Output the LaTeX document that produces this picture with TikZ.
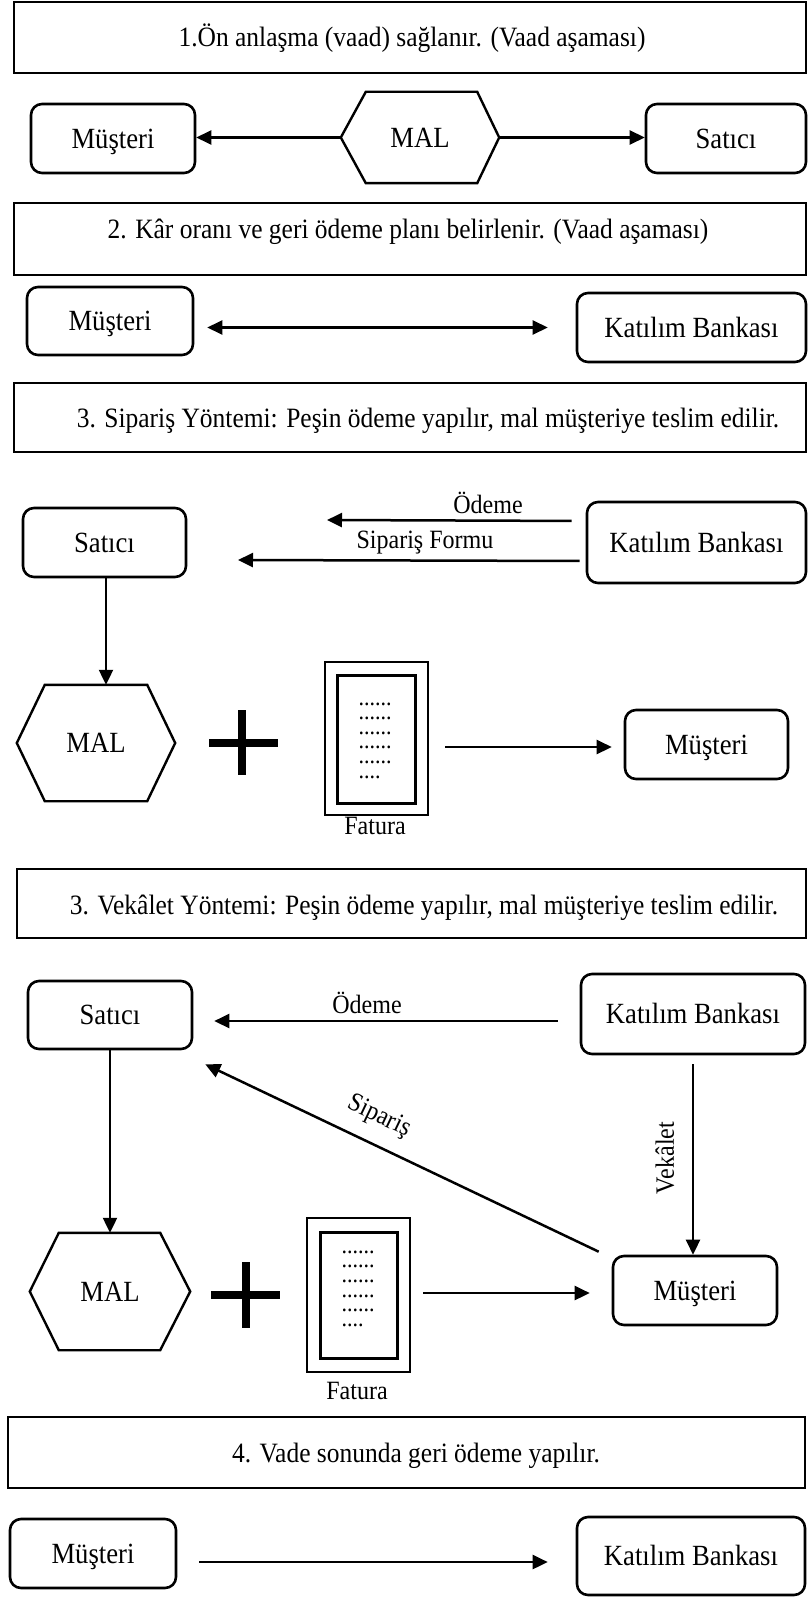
\documentclass[tikz,border=0pt]{standalone}
\usepackage{fontspec}
\setmainfont{Liberation Serif}[FakeStretch=0.91]
\usetikzlibrary{arrows.meta}

% hexagon outline around an invisible node: #1 node, #2 left inset, #3 right inset
\newcommand\hexframe[3]{%
  \draw[hexline] (#1.west) -- ([xshift=#2]#1.north west) -- ([xshift=-#3]#1.north east)
    -- (#1.east) -- ([xshift=-#3]#1.south east) -- ([xshift=#2]#1.south west) -- cycle;}
% placeholder lines of the invoice
\newcommand\sixdots{......}
\newcommand\fourdots{....}

\begin{document}
\begin{tikzpicture}[x=1pt,y=-1pt,
  stagebox/.style={draw, line width=2.8pt, inner sep=0pt},
  stagetext/.style={font=\fontsize{28}{32}\selectfont, inner sep=0pt,
                    text height=18.5pt, text depth=0pt},
  actor/.style={draw, line width=2.6pt, rounded corners=11pt, inner sep=0pt,
                font=\fontsize{29.3}{32}\selectfont, text height=19.4pt, text depth=0pt},
  malnode/.style={inner sep=0pt, font=\fontsize{29.3}{32}\selectfont,
                  text height=19.4pt, text depth=0pt},
  hexline/.style={line width=2.4pt, line join=miter},
  arr/.style={line width=2.5pt, -{Triangle[length=15pt,width=14pt]}},
  dblarr/.style={line width=2.5pt, {Triangle[length=15pt,width=14pt]}-{Triangle[length=15pt,width=14pt]}},
  thinarr/.style={line width=2.2pt, -{Triangle[length=15pt,width=14pt]}},
  flowlabel/.style={font=\fontsize{26.4}{30}\selectfont, inner sep=0pt},
  plusline/.style={line width=8pt},
  outerdoc/.style={draw, line width=2pt, inner sep=0pt},
  innerdoc/.style={draw, line width=3pt, inner sep=0pt},
  dotrow/.style={font=\fontsize{24.2}{24}\selectfont, inner sep=0pt, anchor=base west},
]
\fill[white] (0,0) rectangle (808,1597);
\useasboundingbox (0,0) rectangle (808,1597);

% ---------- Stage 1 ----------
\node[stagebox, minimum width=792pt, minimum height=71pt] (b1) at (410,37.5) {};
\node[stagetext] (t1) at (412,37) {1.Ön anlaşma (vaad) sağlanır. (Vaad aşaması)};

\node[actor, minimum width=164pt, minimum height=69pt] (m1) at (113,138.5) {Müşteri};
\node[malnode, minimum width=158pt, minimum height=91pt] (mal1) at (420,137.5) {MAL};
\hexframe{mal1}{25pt}{22pt}
\node[actor, minimum width=160pt, minimum height=69pt] (s1) at (726,138.5) {Satıcı};
\draw[arr] (mal1.west) -- (mal1.west -| m1.east);
\draw[arr] (mal1.east) -- (mal1.east -| s1.west);

% ---------- Stage 2 ----------
\node[stagebox, minimum width=792pt, minimum height=72pt] (b2) at (410,239) {};
\node[stagetext] (t2) at (408,229) {2. Kâr oranı ve geri ödeme planı belirlenir. (Vaad aşaması)};

\node[actor, minimum width=166pt, minimum height=68pt] (m2) at (110,321) {Müşteri};
\node[actor, minimum width=229pt, minimum height=69pt] (k2) at (691.5,327.5) {Katılım Bankası};
\draw[dblarr, shorten <=13pt, shorten >=28pt] (k2.west -| m2.east) -- (k2.west);

% ---------- Stage 3: order method ----------
\node[stagebox, minimum width=792pt, minimum height=69pt] (b3) at (410,417.5) {};
\node[stagetext] (t3) at (428,418) {3. Sipariş Yöntemi: Peşin ödeme yapılır, mal müşteriye teslim edilir.};

\node[actor, minimum width=163pt, minimum height=69pt] (s3) at (104.5,542.5) {Satıcı};
\node[actor, minimum width=219pt, minimum height=81pt] (k3) at (696.5,542.5) {Katılım Bankası};
\coordinate (pay3end) at (327,520);
\coordinate (form3end) at (238,560);
\draw[arr, shorten <=14pt] ([yshift=21.5pt]k3.west) -- (pay3end);
\draw[arr, shorten <=6pt] ([yshift=-18.5pt]k3.west) -- (form3end);
\node[flowlabel] (pay3) at (488,503) {Ödeme};
\node[flowlabel] (form3) at (425,543) {Sipariş Formu};

\node[malnode, minimum width=158pt, minimum height=116pt] (mal3) at (96,743) {MAL};
\hexframe{mal3}{28pt}{28pt}
\draw[thinarr] ([xshift=1.5pt]s3.south) -- ([xshift=1.5pt]s3.south |- mal3.north);

\coordinate (p3) at (242,743);
\draw[plusline] ([yshift=33pt]p3) -- ([yshift=-32pt]p3);
\draw[plusline] ([xshift=-33pt]p3) -- ([xshift=36pt]p3);

\node[outerdoc, minimum width=103pt, minimum height=153pt] (fat3) at (376.5,738.5) {};
\node[innerdoc, minimum width=78pt, minimum height=128pt] (fat3in) at (376,739) {};
\foreach \i/\t in {0/\sixdots,1/\sixdots,2/\sixdots,3/\sixdots,4/\sixdots,5/\fourdots}
  \node[dotrow] (dots3-\i) at (358.5,{705+14.6*\i}) {\t};
\node[flowlabel] (fl3) at (375,826) {Fatura};

\node[actor, minimum width=163pt, minimum height=69pt] (m3) at (706.5,744.5) {Müşteri};
\draw[arr, shorten <=16pt, shorten >=12pt] ([yshift=-8.5pt]fat3.east) -- ([yshift=-8.5pt]fat3.east -| m3.west);

% ---------- Stage 3: agency method ----------
\node[stagebox, minimum width=789pt, minimum height=69pt] (b4) at (411.5,903.5) {};
\node[stagetext] (t4) at (424,905) {3. Vekâlet Yöntemi: Peşin ödeme yapılır, mal müşteriye teslim edilir.};

\node[actor, minimum width=164pt, minimum height=68pt] (s4) at (110,1015) {Satıcı};
\node[actor, minimum width=224pt, minimum height=80pt] (k4) at (693,1014) {Katılım Bankası};
\draw[arr, shorten <=22pt, shorten >=21pt] ([yshift=-7pt]k4.west) -- ([yshift=-7pt]k4.west -| s4.east);
\node[flowlabel] (pay4) at (367,1003) {Ödeme};

\node[malnode, minimum width=160pt, minimum height=117pt] (mal4) at (110,1291.5) {MAL};
\hexframe{mal4}{29pt}{30pt}
\draw[thinarr] (s4.south) -- (s4.south |- mal4.north);

\coordinate (p4) at (246,1295);
\draw[plusline] ([yshift=33pt]p4) -- ([yshift=-33pt]p4);
\draw[plusline] ([xshift=-35pt]p4) -- ([xshift=34pt]p4);

\node[outerdoc, minimum width=103pt, minimum height=154pt] (fat4) at (358.5,1295) {};
\node[innerdoc, minimum width=77pt, minimum height=126pt] (fat4in) at (358.5,1295) {};
\foreach \i/\t in {0/\sixdots,1/\sixdots,2/\sixdots,3/\sixdots,4/\sixdots,5/\fourdots}
  \node[dotrow] (dots4-\i) at (341.5,{1253+14.7*\i}) {\t};
\node[flowlabel] (fl4) at (357,1391) {Fatura};

\node[actor, minimum width=164pt, minimum height=69pt] (m4) at (695,1290.5) {Müşteri};
\draw[arr, shorten <=12pt, shorten >=22pt] ([yshift=2pt]fat4.east) -- ([yshift=2pt]fat4.east -| m4.west);

\draw[arr, shorten <=9pt] (k4.south) -- (k4.south |- m4.north);
\node[flowlabel, rotate=90] (vek4) at (665,1158) {Vekâlet};

\draw[arr] ([xshift=-13pt,yshift=3pt]m4.north west) -- ([xshift=12pt,yshift=-14pt]s4.south east);
\node[flowlabel, rotate=-25.6] (ord4) at (379,1117) {Sipariş};

% ---------- Stage 4 ----------
\node[stagebox, minimum width=797pt, minimum height=71pt] (b5) at (406.5,1452.5) {};
\node[stagetext] (t5) at (416,1453) {4. Vade sonunda geri ödeme yapılır.};

\node[actor, minimum width=166pt, minimum height=69pt] (m5) at (93,1553.5) {Müşteri};
\node[actor, minimum width=228pt, minimum height=78pt] (k5) at (691,1556) {Katılım Bankası};
\draw[arr, shorten <=22pt, shorten >=28pt] ([yshift=-8.5pt]m5.east) -- ([yshift=-8.5pt]m5.east -| k5.west);

\end{tikzpicture}
\end{document}
